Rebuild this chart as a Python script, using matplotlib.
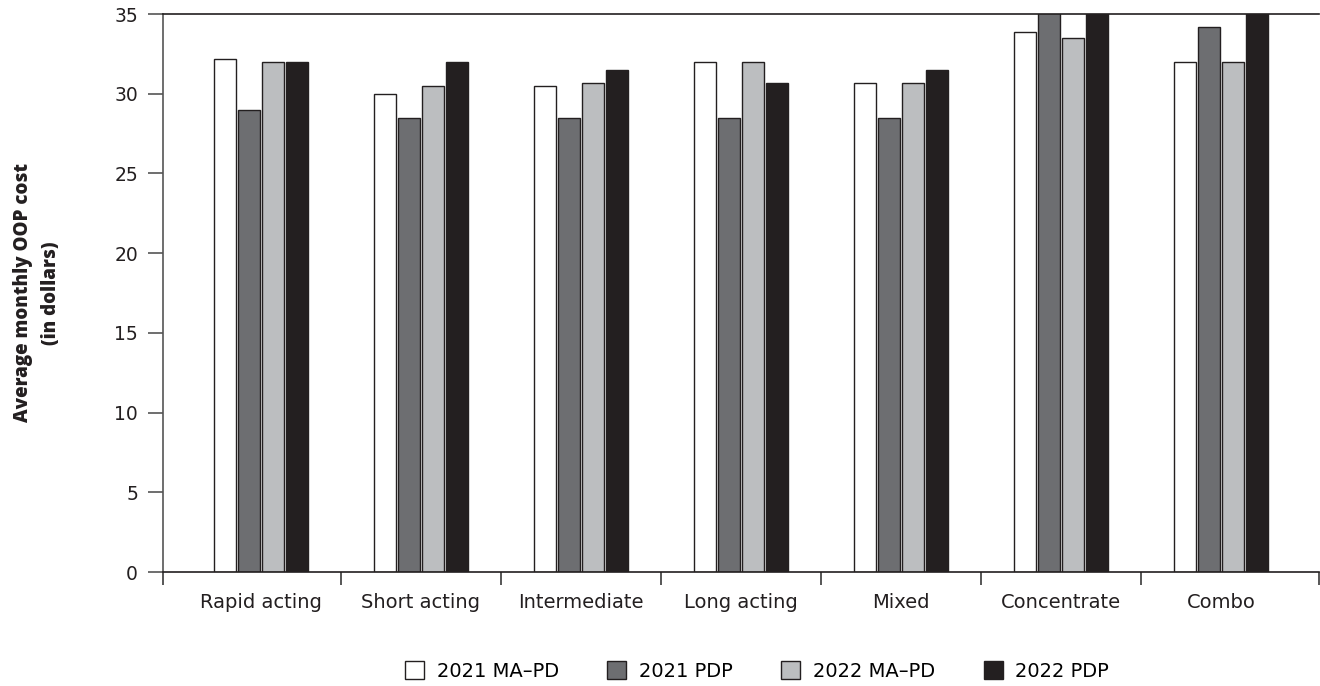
import matplotlib
matplotlib.use("Agg")
import matplotlib.pyplot as plt
from matplotlib.patches import Patch
import numpy as np

categories = ["Rapid acting", "Short acting", "Intermediate", "Long acting",
              "Mixed", "Concentrate", "Combo"]
series_names = ["2021 MA\u2013PD", "2021 PDP", "2022 MA\u2013PD", "2022 PDP"]
ma_pd_2021 = [32.2, 30.0, 30.5, 32.0, 30.7, 33.9, 32.0]
pdp_2021 = [29.0, 28.5, 28.5, 28.5, 28.5, 35.5, 34.2]
ma_pd_2022 = [32.0, 30.5, 30.7, 32.0, 30.7, 33.5, 32.0]
pdp_2022 = [32.0, 32.0, 31.5, 30.7, 31.5, 35.5, 35.5]
y_ticks = [0, 5, 10, 15, 20, 25, 30, 35]

series = [ma_pd_2021, pdp_2021, ma_pd_2022, pdp_2022]
colors = ["#ffffff", "#6d6e71", "#bcbec0", "#231f20"]
edge = "#231f20"

plt.rcParams['font.family'] = ['DejaVu Sans']

fig = plt.figure(figsize=(13.2, 6.86), dpi=100)
ax = fig.add_axes([163/1320, 1-572/686, (1319-163)/1320, (572-14)/686])

x = np.arange(len(categories))
step = 0.15
width = 0.1375
for i, (vals, c) in enumerate(zip(series, colors)):
    ax.bar(x + (i - 1.5) * step, vals, width=width, color=c,
           edgecolor=edge, linewidth=1.0, zorder=2)

xmin, xmax = -0.61, 6.61
ax.set_xlim(xmin, xmax)
ax.set_ylim(0, 35)

ax.set_yticks(y_ticks)
ax.set_yticklabels([str(t) for t in y_ticks], fontsize=13.5, color="#231f20")
ax.tick_params(axis='y', length=11, width=1.2, color="#555555", pad=7)

major = [xmin] + [i + 0.5 for i in range(len(categories) - 1)] + [xmax]
ax.set_xticks(major)
ax.set_xticklabels([""] * len(major))
ax.tick_params(axis='x', which='major', length=9.5, width=1.2, color="#3a3a3a")
ax.set_xticks(x, minor=True)
ax.set_xticklabels(categories, minor=True, fontsize=14, color="#231f20")
ax.tick_params(axis='x', which='minor', length=0, pad=15)

for side in ["top", "bottom"]:
    ax.spines[side].set_color("#231f20")
    ax.spines[side].set_linewidth(1.2)
ax.spines["left"].set_color("#555555")
ax.spines["left"].set_linewidth(1.2)
ax.spines["right"].set_visible(False)

fig.text(37/1320, 1-293/686, "Average monthly OOP cost\n(in dollars)",
         rotation=90, ha="center", va="center", multialignment="center",
         fontsize=13.5, fontweight=800, color="#231f20", linespacing=1.55,
         family=["Open Sans", "DejaVu Sans"])

handles = [Patch(facecolor=c, edgecolor=edge, linewidth=1.0) for c in colors]
fig.legend(handles, series_names, loc="center", bbox_to_anchor=(757/1320, 1-671/686),
           ncol=4, frameon=False, fontsize=14, handlelength=0.98, handleheight=0.98,
           handletextpad=0.65, columnspacing=2.5, borderaxespad=0, borderpad=0)

fig.savefig("out.png", dpi=100)
